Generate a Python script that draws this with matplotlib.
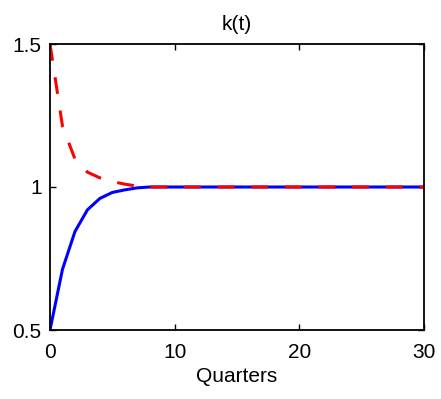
import numpy as np
import matplotlib
matplotlib.use("Agg")
import matplotlib.pyplot as plt

# quarters and the two paths of k(t)
quarters = np.arange(0, 31)
k_low = [0.5, 0.712, 0.844, 0.92, 0.96, 0.981, 0.99, 0.997, 1.0] + [1.0] * 22
k_high = [1.5, 1.213, 1.098, 1.052, 1.032, 1.019, 1.010, 1.003, 1.0] + [1.0] * 22

xticks = [0, 10, 20, 30]
yticks = [0.5, 1, 1.5]
yticklabels = ["0.5", "1", "1.5"]

plt.rcParams['font.family'] = ['Liberation Sans', 'DejaVu Sans']

fig = plt.figure(figsize=(4.41, 3.99), dpi=100)
ax = fig.add_axes([50 / 441, 1 - 330 / 399, 374 / 441, 286 / 399])

ax.plot(quarters, k_low, color='blue', lw=2.2)
ax.plot(quarters, k_high, color='red', lw=2.2, linestyle=(0, (5.5, 5.5)))

ax.set_xlim(0, 30)
ax.set_ylim(0.5, 1.5)
ax.set_xticks(xticks)
ax.set_yticks(yticks)
ax.set_yticklabels(yticklabels)
ax.tick_params(direction='in', top=True, right=True, labelsize=15, length=4, width=1)
ax.tick_params(axis='x', pad=9)
ax.tick_params(axis='y', pad=6)
for s in ax.spines.values():
    s.set_linewidth(1.3)

ax.set_title("k(t)", fontsize=15, pad=10)
ax.set_xlabel("Quarters", fontsize=15, labelpad=4)

fig.savefig("out.png", dpi=100)
